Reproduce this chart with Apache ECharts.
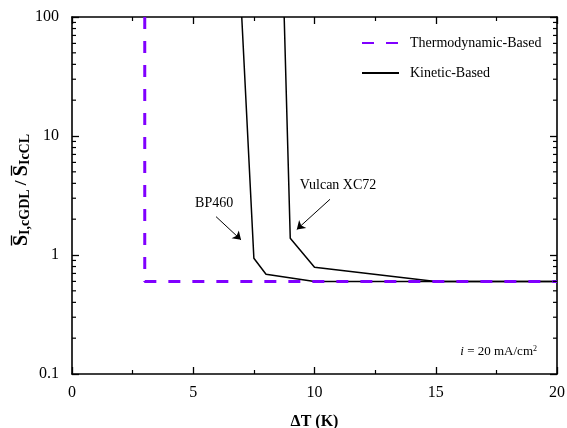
<!DOCTYPE html>
<html>
<head>
<meta charset="utf-8">
<script src="https://cdn.jsdelivr.net/npm/echarts@6/dist/echarts.min.js"></script>
<style>
  html, body { margin: 0; padding: 0; background: #fff; overflow: hidden; }
  #chart { width: 567px; height: 428px; }
</style>
</head>
<body>
<div id="chart"></div>
<script>
// Data: saturation ratio vs. temperature difference
var thermoX = [3, 3, 20];
var thermoY = [100, 0.6, 0.6];

var bp460X = [7.0, 7.5, 8.0, 10, 20];
var bp460Y = [100, 0.94, 0.69, 0.6, 0.6];

var vulcanX = [8.75, 9.0, 10, 15, 20];
var vulcanY = [100, 1.38, 0.79, 0.6, 0.6];

var xTicks = [0, 5, 10, 15, 20];
var yTicks = [0.1, 1, 10, 100];
var yMinorTicks = [0.2, 0.3, 0.4, 0.5, 0.6, 0.7, 0.8, 0.9,
                   2, 3, 4, 5, 6, 7, 8, 9,
                   20, 30, 40, 50, 60, 70, 80, 90];

// Annotation anchors (data coordinates)
var bp460Label = { name: 'BP460', at: [5.86, 2.73] };
var vulcanLabel = { name: 'Vulcan XC72', at: [10.97, 3.87] };
var bp460Arrow = [[5.94, 2.10], [6.97, 1.34]];
var vulcanArrow = [[10.64, 2.94], [9.27, 1.64]];

function zip(xs, ys) {
  return xs.map(function (x, i) { return [x, ys[i]]; });
}

var FONT = '"Liberation Serif", "Times New Roman", serif';
var PURPLE = '#8000ff';

var chart = echarts.init(document.getElementById('chart'), null, { renderer: 'canvas' });

function measure(text, size, weight) {
  var c = measure.ctx || (measure.ctx = document.createElement('canvas').getContext('2d'));
  c.font = (weight || 'normal') + ' ' + size + 'px ' + FONT;
  return c.measureText(text).width;
}

// Vertical axis title: S̄_I,cGDL / S̄_IcCL built from pieces with overbars
function buildYTitle() {
  var parts = [
    { t: 'S', size: 20, dy: 0, bar: true },
    { t: 'I,cGDL', size: 14, dy: 3 },
    { t: ' / ', size: 17, dy: 0 },
    { t: 'S', size: 20, dy: 0, bar: true },
    { t: 'IcCL', size: 14, dy: 3 }
  ];
  var total = 0;
  parts.forEach(function (p) { p.w = measure(p.t, p.size, 'bold'); total += p.w; });
  var x = -total / 2;
  var children = [];
  parts.forEach(function (p) {
    children.push({
      type: 'text',
      x: x, y: p.dy,
      style: {
        text: p.t, fill: '#000',
        font: 'bold ' + p.size + 'px ' + FONT,
        align: 'left', verticalAlign: 'middle'
      }
    });
    if (p.bar) {
      children.push({
        type: 'line',
        shape: { x1: x + 0.5, y1: -10.5, x2: x + p.w - 0.5, y2: -10.5 },
        style: { stroke: '#000', lineWidth: 1.3 }
      });
    }
    x += p.w;
  });
  return {
    type: 'group',
    x: 22, y: 190,
    rotation: Math.PI / 2,
    children: children
  };
}

var option = {
  animation: false,
  backgroundColor: '#fff',
  grid: { left: 72, right: 10, top: 17, bottom: 54, containLabel: false, outerBoundsMode: 'none' },
  legend: {
    orient: 'vertical',
    left: 361, top: 36, padding: 0,
    itemWidth: 37, itemHeight: 14, itemGap: 16,
    itemStyle: { opacity: 0 },
    data: ['Thermodynamic-Based', 'Kinetic-Based'],
    textStyle: { fontFamily: FONT, fontSize: 14, color: '#000', padding: [0, 0, 0, 6] }
  },
  xAxis: [
    {
      type: 'value', min: 0, max: 20, interval: 5,
      name: 'ΔT (K)', nameLocation: 'middle', nameGap: 40,
      nameTextStyle: { fontFamily: FONT, fontSize: 16, fontWeight: 'bold', color: '#000' },
      axisLine: { show: true, onZero: false, lineStyle: { color: '#000', width: 1.6 } },
      axisTick: { show: true, inside: true, length: 7, lineStyle: { color: '#000', width: 1.3 } },
      minorTick: { show: true, splitNumber: 2, length: 4, lineStyle: { color: '#000', width: 1.2 } },
      axisLabel: {
        margin: 11, fontFamily: FONT, fontSize: 16, color: '#000',
        formatter: function (v) { return xTicks.indexOf(v) >= 0 ? String(v) : ''; }
      },
      splitLine: { show: false }
    },
    {
      type: 'value', min: 0, max: 20, interval: 5, position: 'top',
      axisLine: { show: true, onZero: false, lineStyle: { color: '#000', width: 1.6 } },
      axisTick: { show: true, inside: true, length: 7, lineStyle: { color: '#000', width: 1.3 } },
      minorTick: { show: true, splitNumber: 2, length: 4, lineStyle: { color: '#000', width: 1.2 } },
      axisLabel: { show: false },
      splitLine: { show: false }
    }
  ],
  yAxis: [
    {
      type: 'log', logBase: 10, min: 0.1, max: 100,
      axisLine: { show: true, onZero: false, lineStyle: { color: '#000', width: 1.6 } },
      axisTick: { show: true, inside: true, length: 7, lineStyle: { color: '#000', width: 1.3 } },
      axisLabel: {
        margin: 13, fontFamily: FONT, fontSize: 16, color: '#000',
        formatter: function (v) {
          for (var i = 0; i < yTicks.length; i++) {
            if (Math.abs(v - yTicks[i]) / yTicks[i] < 1e-6) return String(yTicks[i]);
          }
          return '';
        }
      },
      splitLine: { show: false }
    },
    {
      type: 'log', logBase: 10, min: 0.1, max: 100, position: 'right',
      axisLine: { show: true, onZero: false, lineStyle: { color: '#000', width: 1.6 } },
      axisTick: { show: true, inside: true, length: 7, lineStyle: { color: '#000', width: 1.3 } },
      axisLabel: { show: false },
      splitLine: { show: false }
    }
  ],
  series: [
    {
      name: 'Kinetic-Based', type: 'line', z: 2,
      data: zip(bp460X, bp460Y),
      symbol: 'none', showSymbol: false,
      lineStyle: { color: '#000', width: 1.5 },
      itemStyle: { color: '#000' },
      markLine: {
        silent: true, symbol: ['none', 'arrow'], symbolSize: 8,
        label: { show: false },
        lineStyle: { color: '#000', width: 1, type: 'solid' },
        data: [
          [{ coord: bp460Arrow[0] }, { coord: bp460Arrow[1] }],
          [{ coord: vulcanArrow[0] }, { coord: vulcanArrow[1] }]
        ]
      },
      markPoint: {
        silent: true, symbol: 'circle', symbolSize: 0,
        label: {
          show: true, position: 'inside', formatter: '{b}',
          fontFamily: FONT, fontSize: 14, color: '#000'
        },
        data: [
          { name: bp460Label.name, coord: bp460Label.at },
          { name: vulcanLabel.name, coord: vulcanLabel.at }
        ]
      }
    },
    {
      name: 'Kinetic-Based', type: 'line', z: 2,
      data: zip(vulcanX, vulcanY),
      symbol: 'none', showSymbol: false,
      lineStyle: { color: '#000', width: 1.5 },
      itemStyle: { color: '#000' }
    },
    {
      name: 'Thermodynamic-Based', type: 'line', z: 3,
      data: zip(thermoX, thermoY),
      symbol: 'none', showSymbol: false,
      lineStyle: { color: PURPLE, width: 3, type: [12, 12] },
      itemStyle: { color: PURPLE }
    },
    {
      // logarithmic minor ticks on the left and right frame
      name: 'minorTicks', type: 'custom', silent: true, z: 5,
      data: yMinorTicks.map(function (v) { return [0, v]; }),
      renderItem: function (params, api) {
        var cs = params.coordSys;
        var y = api.coord([0, api.value(1)])[1];
        var st = { stroke: '#000', lineWidth: 1.2 };
        return {
          type: 'group',
          children: [
            { type: 'line', shape: { x1: cs.x, y1: y, x2: cs.x + 4, y2: y }, style: st },
            { type: 'line', shape: { x1: cs.x + cs.width - 4, y1: y, x2: cs.x + cs.width, y2: y }, style: st }
          ]
        };
      },
      clip: false
    }
  ],
  graphic: [
    buildYTitle(),
    {
      type: 'text',
      x: 537, y: 352,
      style: {
        text: '{i|i} = 20 mA/cm{s|2}',
        font: '13px ' + FONT,
        fill: '#000',
        align: 'right', verticalAlign: 'middle',
        rich: {
          i: { fontStyle: 'italic', fontSize: 13, fontFamily: FONT },
          s: { fontSize: 8, fontFamily: FONT, verticalAlign: 'top', padding: [0, 0, 6, 0] }
        }
      }
    }
  ]
};

chart.setOption(option);
</script>
</body>
</html>
